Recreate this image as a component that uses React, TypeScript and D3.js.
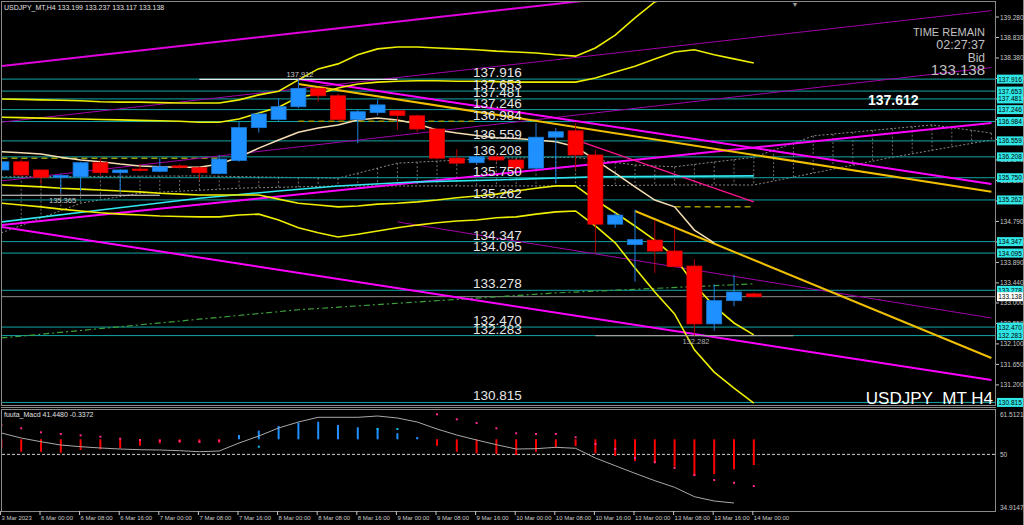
import React from 'react';
import * as d3 from 'd3';

// USDJPY_MT H4 candles, 3 Mar 16:00 .. 14 Mar 00:00
const candleOpen = [135.92, 136.10, 135.92, 135.76, 135.77, 136.08, 135.86, 135.94, 135.89, 136.01, 135.97, 135.84, 136.13, 136.85, 137.03, 137.31, 137.71, 137.55, 137.03, 137.18, 137.22, 137.11, 136.82, 136.18, 136.08, 136.21, 136.14, 135.96, 136.64, 136.78, 136.25, 134.73, 134.28, 134.38, 134.14, 133.81, 132.54, 133.05, 133.199];
const candleHigh = [136.15, 136.16, 135.93, 135.84, 136.10, 136.18, 135.94, 136.04, 136.18, 136.05, 135.99, 136.25, 136.98, 137.20, 137.50, 137.912, 137.73, 137.60, 137.25, 137.46, 137.25, 137.14, 136.84, 136.38, 136.24, 136.25, 136.16, 136.95, 136.84, 136.95, 136.36, 134.98, 135.05, 134.82, 134.64, 133.96, 133.41, 133.62, 133.237];
const candleLow = [135.88, 135.77, 135.61, 135.42, 135.45, 135.80, 135.44, 135.88, 135.87, 135.95, 135.70, 135.82, 136.10, 136.74, 137.00, 137.28, 137.42, 137.00, 136.51, 137.12, 136.80, 136.75, 136.15, 136.05, 136.04, 136.10, 135.93, 135.93, 135.63, 135.92, 134.09, 134.65, 133.47, 133.66, 133.78, 132.282, 132.39, 132.93, 133.117];
const candleClose = [136.10, 135.81, 135.76, 135.80, 136.08, 135.86, 135.92, 135.91, 135.99, 135.98, 135.86, 136.16, 136.85, 137.15, 137.31, 137.71, 137.55, 137.03, 137.20, 137.35, 137.12, 136.82, 136.18, 136.07, 136.21, 136.14, 135.96, 136.64, 136.76, 136.25, 134.73, 134.93, 134.39, 134.14, 133.80, 132.54, 133.05, 133.24, 133.138];

const timeLabels = ['3 Mar 2023', '6 Mar 00:00', '6 Mar 08:00', '6 Mar 16:00', '7 Mar 00:00', '7 Mar 08:00', '7 Mar 16:00', '8 Mar 00:00', '8 Mar 08:00', '8 Mar 16:00', '9 Mar 00:00', '9 Mar 08:00', '9 Mar 16:00', '10 Mar 00:00', '10 Mar 08:00', '10 Mar 16:00', '13 Mar 00:00', '13 Mar 08:00', '13 Mar 16:00', '14 Mar 00:00'];

const priceTicks = [139.28, 138.83, 138.38, 137.93, 137.48, 137.03, 136.59, 136.14, 135.69, 135.24, 134.79, 134.34, 133.89, 133.44, 133.0, 132.55, 132.1, 131.65, 131.2];
const levels = [137.916, 137.653, 137.481, 137.246, 136.984, 136.559, 136.208, 135.75, 135.262, 134.347, 134.095, 133.278, 132.47, 132.283, 130.815];
const bidPrice = 133.138;
const lowMarkerA = 135.365;

// envelope bands
const bandOuterUp = [137.48, 137.47, 137.46, 137.45, 137.44, 137.42, 137.41, 137.41, 137.40, 137.39, 137.39, 137.39, 137.46, 137.57, 137.65, 137.90, 138.14, 138.25, 138.45, 138.58, 138.62, 138.62, 138.60, 138.58, 138.56, 138.53, 138.51, 138.49, 138.45, 138.42, 138.60, 138.88, 139.26, 139.61, 139.74];
const bandInnerUp = [137.08, 137.07, 137.06, 137.05, 137.04, 137.03, 137.02, 137.01, 137.00, 136.99, 136.97, 136.97, 137.04, 137.17, 137.30, 137.52, 137.59, 137.72, 137.81, 137.85, 137.87, 137.88, 137.88, 137.87, 137.87, 137.86, 137.85, 137.85, 137.85, 137.85, 137.94, 138.07, 138.20, 138.36, 138.51, 138.56, 138.45, 138.36, 138.27];
const bandInnerLow = [135.59, 135.57, 135.55, 135.52, 135.50, 135.48, 135.46, 135.44, 135.41, 135.39, 135.37, 135.37, 135.37, 135.37, 135.28, 135.19, 135.15, 135.11, 135.13, 135.17, 135.19, 135.22, 135.26, 135.31, 135.35, 135.39, 135.46, 135.52, 135.57, 135.57, 135.26, 134.98, 134.69, 134.38, 134.01, 133.40, 132.93, 132.56, 132.30];
const bandOuterLow = [135.19, 135.15, 135.11, 135.06, 135.02, 134.98, 134.95, 134.93, 134.91, 134.90, 134.89, 134.89, 134.93, 134.95, 134.82, 134.65, 134.54, 134.45, 134.51, 134.58, 134.65, 134.71, 134.76, 134.80, 134.82, 134.87, 134.89, 134.95, 135.00, 135.02, 134.69, 134.32, 133.77, 133.24, 132.76, 131.97, 131.48, 131.13, 130.80];
const maLine = [136.32, 136.30, 136.27, 136.20, 136.14, 136.10, 136.05, 136.01, 135.99, 135.98, 135.98, 136.05, 136.20, 136.40, 136.58, 136.75, 136.84, 136.91, 137.02, 137.06, 137.02, 136.93, 136.80, 136.73, 136.68, 136.63, 136.61, 136.58, 136.54, 136.43, 136.14, 135.85, 135.55, 135.26, 135.11, 134.60, 134.32];

const cyanIdx = [0, 5, 10, 14, 17, 21, 25, 30, 38];
const cyanVal = [134.78, 135.04, 135.30, 135.46, 135.57, 135.66, 135.70, 135.77, 135.79];
const greenIdx = [0, 15, 28, 38];
const greenVal = [132.23, 132.85, 133.22, 133.42];

// cloud spans (extend into the future)
const spanAIdx = [0, 10, 17, 20, 25, 29, 32, 34, 38, 40, 41, 47, 50];
const spanAVal = [135.77, 135.79, 135.74, 136.07, 136.18, 136.20, 136.03, 135.99, 136.20, 136.51, 136.67, 136.91, 136.73];
const spanBIdx = [0, 4, 7, 12, 17, 22, 28, 34, 38, 45, 50];
const spanBVal = [134.54, 135.19, 135.41, 135.52, 135.57, 135.57, 135.57, 135.59, 135.59, 136.20, 136.58];
const kijunSegs = [[0, 11, 136.18], [15, 24, 136.99], [34, 38, 135.11]];

// trendlines: [bar1, price1, bar2, price2]
const tlUpperA = [0, 138.20, 50, 140.64];
const tlUpperB = [0, 136.97, 50, 139.42];
const tlUpperC = [0, 135.68, 50, 138.17];
const tlRiseD = [0, 134.71, 50, 136.95];
const tlFallE = [15, 137.92, 50, 135.61];
const tlGoldF = [15, 137.81, 50, 135.44];
const tlGoldG = [32, 135.02, 50, 131.79];
const tlFallH = [20, 134.78, 50, 132.67];
const tlFallI = [0, 134.67, 50, 131.31];
const tlSteepJ = [29, 136.58, 38, 135.22];

// oscillator
const oscLine = [56.09, 54.67, 53.61, 52.67, 52.19, 51.82, 51.53, 51.33, 51.25, 51.05, 50.76, 50.96, 53.24, 55.24, 57.52, 59.23, 60.57, 60.57, 60.57, 60.94, 60.37, 59.23, 57.24, 55.52, 54.10, 52.76, 51.53, 51.62, 52.02, 51.73, 48.97, 46.77, 44.60, 42.50, 40.62, 37.94, 36.71, 36.14];
const oscHist = [51.73, 50.76, 50.76, 50.48, 51.25, 51.45, 51.73, 52.47, 53.16, 53.33, 53.33, 53.33, 55.52, 56.75, 58.09, 59.03, 59.31, 58.37, 57.72, 57.43, 56.01, 54.95, 52.47, 50.76, 50.30, 50.11, 49.82, 50.76, 51.90, 52.39, 50.30, 49.54, 48.11, 47.46, 46.49, 43.83, 44.40, 45.74, 46.97];
const oscBase = 54.3;
const oscDotsPink = [58.37, 57.43, 56.29, 55.81, 55.44, 55.04, 54.47, 54.10, 53.90, 53.81, 53.61, 53.90, null, null, null, null, null, null, null, null, null, null, 61.42, 60.00, 58.94, 57.43, 56.01, 55.81, 55.81, 54.87, 52.96, 51.53, 48.97, 47.82, 46.11, 44.12, 42.69, 41.92, 40.98];
const oscDotsCyanIdx = [13, 19, 20];
const oscDotsCyanVal = [52.19, 57.23, 57.23];
const oscTicks = [61.5121, 50, 34.9147];

const FONT = 'Liberation Sans, Arial, sans-serif';

export default function App() {
  const x = d3.scaleLinear().domain([0, 38]).range([1.4, 753.8]);
  const y = d3.scaleLinear().domain([139.28, 131.2]).range([17, 384.9]);
  const ym = d3.scaleLinear().domain([61.5121, 34.9147]).range([414, 507.3]);

  const series = d3.line<number | null>()
    .defined(v => v != null)
    .x((_, i) => x(i))
    .y(v => y(v as number));
  const knots = d3.line<[number, number]>()
    .x(d => x(d[0]))
    .y(d => y(d[1]));
  const oscPath = d3.line<number>().x((_, i) => x(i)).y(v => ym(v));

  const spanA = d3.scaleLinear().domain(spanAIdx).range(spanAVal);
  const spanB = d3.scaleLinear().domain(spanBIdx).range(spanBVal);
  const hatch = d3.range(0, 51);

  const tl = (t: number[], color: string, w: number, key: string) => (
    <line key={key} x1={x(t[0])} y1={y(t[1])} x2={x(t[2])} y2={y(t[3])} stroke={color} strokeWidth={w} />
  );

  const bodyW = 15;

  return (
    <svg width={1024} height={525} style={{ position: 'absolute', left: 0, top: 0, background: '#000' }} fontFamily={FONT}>
      <defs>
        <clipPath id="mainClip"><rect x={2} y={2} width={993} height={403} /></clipPath>
        <clipPath id="oscClip"><rect x={2} y={410} width={993} height={101} /></clipPath>
      </defs>
      <rect width={1024} height={525} fill="#000" />

      <g clipPath="url(#mainClip)">
        {/* cloud */}
        {hatch.map(k => (
          <line key={'h' + k} x1={x(k)} x2={x(k)} y1={y(spanA(k))} y2={y(spanB(k))} stroke="#8a8a8a" strokeWidth={0.8} strokeDasharray="2,2" />
        ))}
        <path d={knots(spanAIdx.map((k, i) => [k, spanAVal[i]]) as [number, number][]) || ''} fill="none" stroke="#9a9a9a" strokeWidth={0.9} strokeDasharray="2,2" />
        <path d={knots(spanBIdx.map((k, i) => [k, spanBVal[i]]) as [number, number][]) || ''} fill="none" stroke="#9a9a9a" strokeWidth={0.9} strokeDasharray="2,2" />

        {/* levels */}
        {levels.map(l => (
          <line key={'l' + l} x1={2} x2={995} y1={y(l)} y2={y(l)} stroke="#13a6a6" strokeWidth={1} />
        ))}
        <line x1={2} x2={995} y1={y(bidPrice)} y2={y(bidPrice)} stroke="#8c8c8c" strokeWidth={1} />

        {/* kijun & green */}
        {kijunSegs.map((s, i) => (
          <line key={'kj' + i} x1={x(s[0])} x2={x(s[1])} y1={y(s[2])} y2={y(s[2])} stroke="#9a9a00" strokeWidth={1.5} strokeDasharray="6,4" />
        ))}
        <path d={knots(greenIdx.map((k, i) => [k, greenVal[i]]) as [number, number][]) || ''} fill="none" stroke="#3ca03c" strokeWidth={1.2} strokeDasharray="6,3,2,3" />

        {/* trendlines */}
        {tl(tlUpperA, '#e000e0', 2, 'A')}
        {tl(tlUpperB, '#a000a8', 1, 'B')}
        {tl(tlUpperC, '#a000a8', 1, 'C')}
        {tl(tlRiseD, '#ff00ff', 2, 'D')}
        {tl(tlFallH, '#a000a8', 1, 'H')}
        {tl(tlFallI, '#ff00ff', 2, 'I')}
        {tl(tlFallE, '#ff00ff', 2, 'E')}
        {tl(tlSteepJ, '#ff1493', 1.2, 'J')}
        {tl(tlGoldF, '#f0c000', 2, 'F')}
        {tl(tlGoldG, '#f0c000', 2, 'G')}

        {/* cyan & bands */}
        <path d={knots(cyanIdx.map((k, i) => [k, cyanVal[i]]) as [number, number][]) || ''} fill="none" stroke="#30e8f0" strokeWidth={1.6} />
        {[bandOuterUp, bandInnerUp, bandInnerLow, bandOuterLow].map((b, i) => (
          <path key={'b' + i} d={series(b) || ''} fill="none" stroke="#eeee00" strokeWidth={1.6} />
        ))}
        <path d={series(maLine) || ''} fill="none" stroke="#f5deb3" strokeWidth={1.5} />

        {/* high / low markers */}
        <line x1={x(10)} x2={x(20)} y1={y(candleHigh[15])} y2={y(candleHigh[15])} stroke="#e8e8e8" strokeWidth={1.2} />
        <text x={x(15) - 12} y={y(candleHigh[15]) - 2} fontSize={7.5} fill="#c8c8c8">{candleHigh[15].toFixed(3)}</text>
        <line x1={2} x2={x(8)} y1={y(lowMarkerA)} y2={y(lowMarkerA)} stroke="#e8e8e8" strokeWidth={1.2} />
        <text x={49} y={y(lowMarkerA) + 8} fontSize={7.5} fill="#c8c8c8">{lowMarkerA.toFixed(3)}</text>
        <line x1={x(30)} x2={x(40)} y1={y(candleLow[35])} y2={y(candleLow[35])} stroke="#a0a0a0" strokeWidth={1.2} />
        <text x={x(35) - 12} y={y(candleLow[35]) + 8} fontSize={7.5} fill="#b0b0b0">{candleLow[35].toFixed(3)}</text>

        {/* candles */}
        {candleOpen.map((o, i) => {
          const c = candleClose[i];
          const up = c >= o;
          const top = y(Math.max(o, c));
          const bot = y(Math.min(o, c));
          return (
            <g key={'c' + i}>
              <line x1={x(i)} x2={x(i)} y1={y(candleHigh[i])} y2={y(candleLow[i])} stroke={up ? '#1e80e0' : '#b40000'} strokeWidth={1} />
              <rect x={x(i) - bodyW / 2} y={top} width={bodyW} height={Math.max(1.5, bot - top)} fill={up ? '#1e90ff' : '#ff0000'} stroke={up ? '#1a7ad8' : '#e00000'} strokeWidth={0.8} />
            </g>
          );
        })}

        {/* level captions */}
        {levels.map(l => (
          <text key={'lt' + l} x={473} y={y(l) - 2} fontSize={13.5} fill="#e6e6e6">{l.toFixed(3)}</text>
        ))}
        <text x={868} y={105} fontSize={14} fontWeight="bold" fill="#ffffff">137.612</text>
        <text x={985} y={36} fontSize={11} fill="#c0c0c0" textAnchor="end">TIME REMAIN</text>
        <text x={985} y={49} fontSize={12.5} fill="#c0c0c0" textAnchor="end">02:27:37</text>
        <text x={985} y={62} fontSize={12} fill="#c0c0c0" textAnchor="end">Bid</text>
        <text x={985} y={75} fontSize={15} fill="#c0c0c0" textAnchor="end">{bidPrice.toFixed(3)}</text>
        <text x={993} y={404} fontSize={17} fill="#ffffff" textAnchor="end">USDJPY_MT H4</text>
        <text x={795} y={7} fontSize={7} fill="#9a9a9a" textAnchor="middle">▼</text>
      </g>

      <text x={4} y={10} fontSize={7} fill="#e0e0e0">USDJPY_MT,H4  133.199 133.237 133.117 133.138</text>

      {/* frames */}
      <rect x={1.5} y={1.5} width={994} height={404} fill="none" stroke="#8a8a8a" strokeWidth={1} />
      <line x1={1} x2={996} y1={407.5} y2={407.5} stroke="#8a8a8a" strokeWidth={1} />
      <rect x={1.5} y={409.5} width={994} height={102} fill="none" stroke="#8a8a8a" strokeWidth={1} />
      <line x1={1023.5} x2={1023.5} y1={0} y2={525} stroke="#8a8a8a" />

      {/* price axis */}
      {priceTicks.map(t => (
        <g key={'pt' + t}>
          <line x1={996} x2={999} y1={y(t)} y2={y(t)} stroke="#c8c8c8" />
          <text x={1000} y={y(t) + 2.5} fontSize={6.5} fill="#c8c8c8">{t.toFixed(3)}</text>
        </g>
      ))}
      {levels.map(l => (
        <g key={'lb' + l}>
          <rect x={997} y={y(l) - 4.5} width={26} height={9} fill="#30e6e6" />
          <text x={1010} y={y(l) + 2.5} fontSize={6.5} fill="#000" textAnchor="middle">{l.toFixed(3)}</text>
        </g>
      ))}
      <rect x={997} y={y(bidPrice) - 4.5} width={26} height={9} fill="#ffffff" />
      <text x={1010} y={y(bidPrice) + 2.5} fontSize={6.5} fill="#000" textAnchor="middle">{bidPrice.toFixed(3)}</text>

      {/* oscillator */}
      <g clipPath="url(#oscClip)">
        <line x1={2} x2={995} y1={ym(50)} y2={ym(50)} stroke="#d0d0d0" strokeWidth={1} strokeDasharray="3,2" />
        {oscHist.map((v, i) => (
          <line key={'oh' + i} x1={x(i)} x2={x(i)} y1={ym(oscBase)} y2={ym(v)} stroke={v >= oscBase ? '#1e90ff' : '#ff0000'} strokeWidth={2} />
        ))}
        <path d={oscPath(oscLine) || ''} fill="none" stroke="#a8a8a8" strokeWidth={1} />
        {oscDotsPink.map((v, i) => v == null ? null : (
          <rect key={'od' + i} x={x(i) - 1} y={ym(v) - 1} width={2} height={2} fill="#ff2a8a" />
        ))}
        {oscDotsCyanIdx.map((k, i) => (
          <rect key={'oc' + i} x={x(k) - 1} y={ym(oscDotsCyanVal[i]) - 1} width={2} height={2} fill="#10c0f0" />
        ))}
      </g>
      <text x={4} y={417} fontSize={7} fill="#e0e0e0">fuuta_Macd 41.4480  -0.3372</text>
      {oscTicks.map(t => (
        <text key={'ot' + t} x={1000} y={ym(t) + 2.5} fontSize={6.5} fill="#c8c8c8">{t === 50 ? '50' : t.toFixed(4)}</text>
      ))}

      {/* time axis */}
      {timeLabels.map((lab, i) => (
        <g key={'tl' + i}>
          <line x1={x(i * 2) - 1} x2={x(i * 2) - 1} y1={511} y2={515} stroke="#c8c8c8" />
          <text x={x(i * 2)} y={520} fontSize={6} fill="#c8c8c8">{lab}</text>
        </g>
      ))}
    </svg>
  );
}
